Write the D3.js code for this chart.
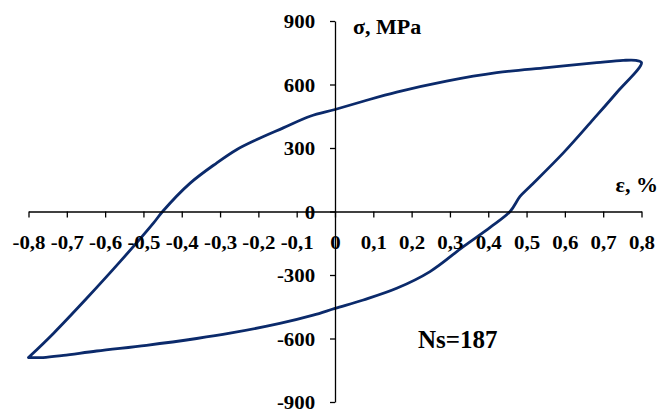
<!DOCTYPE html>
<html><head><meta charset="utf-8">
<script src="https://cdn.jsdelivr.net/npm/d3@7"></script>
<style>
html,body{margin:0;padding:0;background:#fff;}
svg{display:block;}
</style></head>
<body>
<svg id="chart" width="661" height="415"></svg>
<script>
// Data: hysteresis loop (strain %, stress MPa)
const strain = [-0.8,-0.735,-0.648,-0.561,-0.474,-0.45,-0.378,-0.309,-0.257,-0.204,-0.135,-0.065,0,0.074,0.161,0.291,0.422,0.553,0.683,0.752,0.785,0.8,
  0.735,0.674,0.596,0.509,0.483,0.457,0.405,0.335,0.248,0.161,0.074,0,-0.057,-0.144,-0.274,-0.361,-0.492,-0.622,-0.709,-0.762,-0.8];
const stress = [-690,-576,-410,-237,-55,0,134,229,292,340,395,450,482,521,564,616,656,680,703,714,714,703,
  561,435,277,118,71,0,-75,-166,-284,-363,-418,-458,-490,-529,-575,-600,-632,-659,-680,-690,-690];
const xTicks = [-0.8,-0.7,-0.6,-0.5,-0.4,-0.3,-0.2,-0.1,0,0.1,0.2,0.3,0.4,0.5,0.6,0.7,0.8];
const xTickLabels = ["-0,8","-0,7","-0,6","-0,5","-0,4","-0,3","-0,2","-0,1","0","0,1","0,2","0,3","0,4","0,5","0,6","0,7","0,8"];
const yTicks = [-900,-600,-300,0,300,600,900];
const yTickLabels = ["-900","-600","-300","0","300","600","900"];
const yTitle = "σ, MPa";
const xTitle = "ε, %";
const note = "Ns=187";

const svg = d3.select("#chart");
const x = d3.scaleLinear().domain([-0.8,0.8]).range([28.5,641.5]);
const y = d3.scaleLinear().domain([-900,900]).range([402,21]);
const FONT = "'Liberation Serif','Times New Roman',serif";

// curve
const line = d3.line().x((d,i)=>x(strain[i])).y((d,i)=>y(stress[i])).curve(d3.curveCatmullRom.alpha(0.5));
svg.append("path").datum(strain).attr("d", line)
  .attr("fill","none").attr("stroke","#0b2a6b").attr("stroke-width",2.8)
  .attr("stroke-linejoin","round").attr("stroke-linecap","round");

// x axis
const gx = svg.append("g").attr("transform",`translate(0,${y(0)})`)
  .call(d3.axisBottom(x).tickValues(xTicks).tickSize(6).tickSizeOuter(0)
    .tickFormat((d,i)=>xTickLabels[i]));
gx.selectAll("text").attr("y",38).attr("dy",0).attr("transform","scale(1.1,1)");
// y axis
const gy = svg.append("g").attr("transform",`translate(${x(0)},0)`)
  .call(d3.axisLeft(y).tickValues(yTicks).tickSize(5).tickSizeOuter(0)
    .tickFormat((d,i)=>yTickLabels[i]));
gy.selectAll("text").attr("x",-18).attr("dy","0.35em").attr("transform","scale(1.1,1)");

[gx,gy].forEach(g=>{
  g.select(".domain").attr("stroke","#000").attr("stroke-width",1.3);
  g.selectAll(".tick line").attr("stroke","#000").attr("stroke-width",1.3);
  g.selectAll("text").attr("fill","#000").style("font-family",FONT)
    .style("font-weight","bold").style("font-size","19px");
});

// titles
svg.append("text").attr("transform","translate(353,34) scale(1.1,1)")
  .text(yTitle).style("font-family",FONT).style("font-weight","bold").style("font-size","20px");
svg.append("text").attr("transform","translate(658,192) scale(1.1,1)").attr("text-anchor","end")
  .text(xTitle).style("font-family",FONT).style("font-weight","bold").style("font-size","20px");
svg.append("text").attr("transform","translate(418,348)")
  .text(note).style("font-family",FONT).style("font-weight","bold").style("font-size","25px");
</script>
</body></html>
